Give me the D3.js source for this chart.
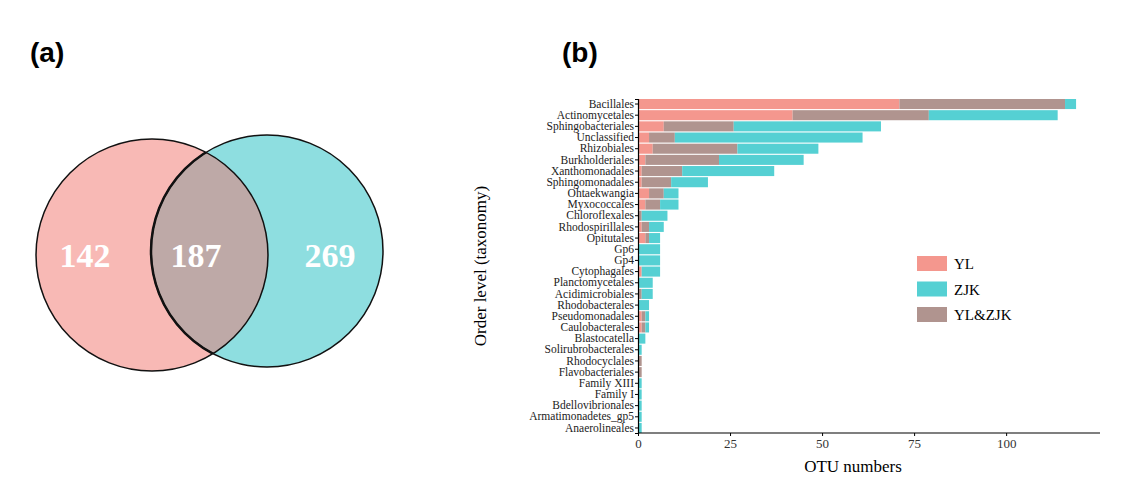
<!DOCTYPE html>
<html><head><meta charset="utf-8">
<script src="https://cdn.jsdelivr.net/npm/d3@7"></script>
<style>body{margin:0;background:#fff}</style>
</head><body>
<svg id="chart" width="1142" height="484"></svg>
<script>
var orders = ['Bacillales','Actinomycetales','Sphingobacteriales','Unclassified','Rhizobiales','Burkholderiales','Xanthomonadales','Sphingomonadales','Ohtaekwangia','Myxococcales','Chloroflexales','Rhodospirillales','Opitutales','Gp6','Gp4','Cytophagales','Planctomycetales','Acidimicrobiales','Rhodobacterales','Pseudomonadales','Caulobacterales','Blastocatella','Solirubrobacterales','Rhodocyclales','Flavobacteriales','Family XIII','Family I','Bdellovibrionales','Armatimonadetes_gp5','Anaerolineales'];
var ylOnly   = [71,42,7,3,4,2,1,1,3,2,0,1,2,0,0,1,0,0,0,1,1,0,0,0,0,0,0,0,0,0];
var shared   = [45,37,19,7,23,20,11,8,4,4,1,2,1,0,0,0,0,1,0,1,1,0,0,1,1,0,0,0,0,0];
var zjkOnly  = [3,35,40,51,22,23,25,10,4,5,7,4,3,6,6,5,4,3,3,1,1,2,1,0,0,1,1,1,1,1];
var vennCounts = [142,187,269];
var xTicks = [0,25,50,75,100];

var svg = d3.select('#chart');
var cYL = '#F4978E', cZJK = '#55D0D3', cBoth = '#B0948F';

// panel labels
svg.append('text').attr('x',30).attr('y',62).text('(a)')
  .style('font','bold 28px Liberation Sans, Arial');
svg.append('text').attr('x',562).attr('y',62).text('(b)')
  .style('font','bold 28px Liberation Sans, Arial');

// venn
var L = {x:152,y:255,r:116}, R = {x:267,y:251,r:116};
var defs = svg.append('defs');
defs.append('clipPath').attr('id','clipL').append('circle').attr('cx',L.x).attr('cy',L.y).attr('r',L.r);
svg.append('circle').attr('cx',L.x).attr('cy',L.y).attr('r',L.r).attr('fill','#F8B9B5');
svg.append('circle').attr('cx',R.x).attr('cy',R.y).attr('r',R.r).attr('fill','#8EDEE0');
svg.append('circle').attr('cx',R.x).attr('cy',R.y).attr('r',R.r).attr('fill','#BEA9A7').attr('clip-path','url(#clipL)');
[L,R].forEach(function(c){
  svg.append('circle').attr('cx',c.x).attr('cy',c.y).attr('r',c.r).attr('fill','none').attr('stroke','#111').attr('stroke-width',1.5);
});
svg.append('circle').attr('cx',R.x).attr('cy',R.y).attr('r',R.r).attr('fill','none').attr('stroke','#111').attr('stroke-width',2.5).attr('clip-path','url(#clipL)');
[[85,vennCounts[0]],[196,vennCounts[1]],[330,vennCounts[2]]].forEach(function(d){
  svg.append('text').attr('x',d[0]).attr('y',267).attr('text-anchor','middle').text(d[1])
    .style('font','bold 34px Liberation Serif, Times New Roman').attr('fill','#fff');
});

// stacked bar chart
var x = d3.scaleLinear().domain([0,125.5]).range([638,1100]);
var y = d3.scaleBand().domain(orders).range([99,433]).paddingInner(0.1);
var rows = orders.map(function(o,i){ return {name:o, vals:[ylOnly[i],shared[i],zjkOnly[i]]}; });
var cols = [cYL,cBoth,cZJK];
var g = svg.append('g');
rows.forEach(function(r){
  var acc = 0;
  r.vals.forEach(function(v,k){
    if (v>0) g.append('rect').attr('x',x(acc)).attr('y',y(r.name)).attr('width',x(acc+v)-x(acc))
      .attr('height',y.bandwidth()).attr('fill',cols[k]);
    acc += v;
  });
});

var yAxis = svg.append('g').attr('transform','translate(638,0)').call(d3.axisLeft(y).tickSize(3).tickPadding(1));
yAxis.selectAll('text').style('font','11.5px Liberation Serif, Times New Roman').attr('fill','#222');
var xAxis = svg.append('g').attr('transform','translate(0,433)').call(d3.axisBottom(x).tickValues(xTicks).tickSize(3));
xAxis.selectAll('text').style('font','13px Liberation Serif, Times New Roman').attr('fill','#333');
svg.selectAll('.domain').attr('stroke','#000').attr('stroke-width',1.2);
xAxis.select('.domain').attr('d','M638,0H1100');

svg.append('text').attr('x',853).attr('y',472).attr('text-anchor','middle').text('OTU numbers')
  .style('font','17px Liberation Serif, Times New Roman');
svg.append('text').attr('transform','translate(486,266) rotate(-90)').attr('text-anchor','middle')
  .text('Order level (taxonomy)').style('font','17px Liberation Serif, Times New Roman');

// legend
[['YL',cYL],['ZJK',cZJK],['YL&ZJK',cBoth]].forEach(function(d,i){
  var ly = 256 + i*25.5;
  svg.append('rect').attr('x',917).attr('y',ly).attr('width',30).attr('height',15).attr('fill',d[1]);
  svg.append('text').attr('x',954).attr('y',ly+13).text(d[0]).style('font','15px Liberation Serif, Times New Roman');
});
</script>
</body></html>
